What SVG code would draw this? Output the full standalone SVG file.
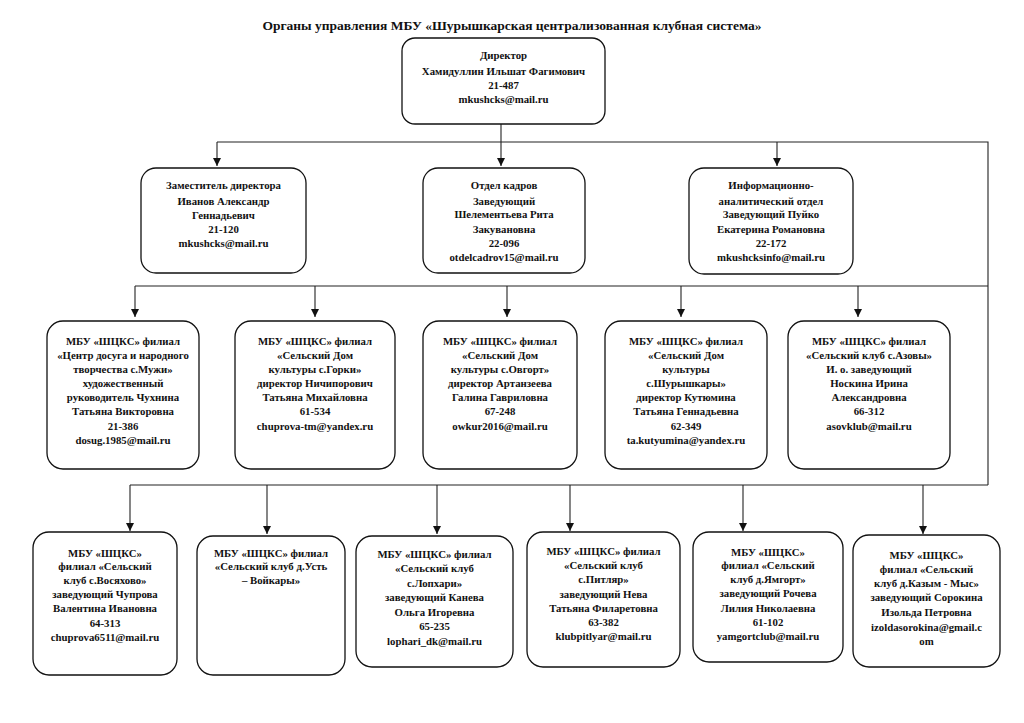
<svg xmlns="http://www.w3.org/2000/svg" width="1024" height="723" viewBox="0 0 1024 723">
<style>
.bg{fill:#fff}
.box{fill:#fff;stroke:#111;stroke-width:1.3}
.t{font-family:"Liberation Serif","Times New Roman",serif;font-weight:bold;font-size:10.8px;fill:#111;text-anchor:middle}
.title{font-family:"Liberation Serif","Times New Roman",serif;font-weight:bold;font-size:13.5px;fill:#111;text-anchor:middle}
.ln{fill:none;stroke:#222;stroke-width:1.1}
.ar{fill:none;stroke:#222;stroke-width:1.1;marker-end:url(#ah)}
</style>
<defs>
<marker id="ah" viewBox="0 0 8 8" refX="8" refY="4" markerWidth="8" markerHeight="8" markerUnits="userSpaceOnUse" orient="auto">
<path d="M0,0 L8,4 L0,8 z" fill="#111"/>
</marker>
</defs>
<rect class="bg" x="0" y="0" width="1024" height="723"/>
<text class="title" x="512" y="30">Органы управления МБУ «Шурышкарская централизованная клубная система»</text>

<g id="connectors">
<line class="ar" x1="501" y1="124" x2="501" y2="166"/>
<polyline class="ln" points="217,142 988,142 988,485"/>
<line class="ar" x1="217" y1="142" x2="217" y2="166"/>
<line class="ar" x1="777" y1="142" x2="777" y2="166"/>
<line class="ln" x1="135" y1="286" x2="988" y2="286"/>
<line class="ar" x1="135" y1="286" x2="135" y2="317"/>
<line class="ar" x1="315" y1="286" x2="315" y2="317"/>
<line class="ar" x1="507" y1="286" x2="507" y2="317"/>
<line class="ar" x1="681" y1="286" x2="681" y2="317"/>
<line class="ar" x1="858" y1="286" x2="858" y2="317"/>
<line class="ln" x1="130" y1="485" x2="988" y2="485"/>
<line class="ar" x1="130" y1="485" x2="130" y2="531"/>
<line class="ar" x1="267" y1="485" x2="267" y2="534"/>
<line class="ar" x1="437" y1="485" x2="437" y2="534"/>
<line class="ar" x1="570" y1="485" x2="570" y2="531"/>
<line class="ar" x1="743" y1="485" x2="743" y2="531"/>
<line class="ar" x1="923" y1="485" x2="923" y2="534"/>
</g>

<g id="director">
<rect class="box" x="402" y="38" width="203" height="86" rx="13"/>
<text class="t" x="503.5" y="59">Директор</text>
<text class="t" x="503.5" y="75">Хамидуллин Ильшат Фагимович</text>
<text class="t" x="503.5" y="89">21-487</text>
<text class="t" x="503.5" y="103">mkushcks@mail.ru</text>
</g>

<g id="deputy">
<rect class="box" x="141" y="168" width="165" height="105" rx="15"/>
<text class="t" x="223.5" y="189">Заместитель директора</text>
<text class="t" x="223.5" y="205">Иванов Александр</text>
<text class="t" x="223.5" y="219">Геннадьевич</text>
<text class="t" x="223.5" y="233">21-120</text>
<text class="t" x="223.5" y="247">mkushcks@mail.ru</text>
</g>

<g id="hr">
<rect class="box" x="423" y="168" width="162" height="105" rx="15"/>
<text class="t" x="504" y="189">Отдел кадров</text>
<text class="t" x="504" y="205">Заведующий</text>
<text class="t" x="504" y="218">Шелементьева Рита</text>
<text class="t" x="504" y="233">Закувановна</text>
<text class="t" x="504" y="247">22-096</text>
<text class="t" x="504" y="261">otdelcadrov15@mail.ru</text>
</g>

<g id="info">
<rect class="box" x="689" y="168" width="164" height="106" rx="15"/>
<text class="t" x="771" y="189">Информационно-</text>
<text class="t" x="771" y="205">аналитический отдел</text>
<text class="t" x="771" y="218">Заведующий Пуйко</text>
<text class="t" x="771" y="233">Екатерина Романовна</text>
<text class="t" x="771" y="247">22-172</text>
<text class="t" x="771" y="261">mkushcksinfo@mail.ru</text>
</g>

<g id="muzhi">
<rect class="box" x="47" y="321" width="152" height="148" rx="16"/>
<text class="t" x="123" y="345">МБУ «ШЦКС» филиал</text>
<text class="t" x="123" y="359">«Центр досуга и народного</text>
<text class="t" x="123" y="373">творчества с.Мужи»</text>
<text class="t" x="123" y="387">художественный</text>
<text class="t" x="123" y="401">руководитель Чухнина</text>
<text class="t" x="123" y="415">Татьяна Викторовна</text>
<text class="t" x="123" y="430">21-386</text>
<text class="t" x="123" y="444">dosug.1985@mail.ru</text>
</g>

<g id="gorki">
<rect class="box" x="235" y="321" width="160" height="148" rx="16"/>
<text class="t" x="315" y="345">МБУ «ШЦКС» филиал</text>
<text class="t" x="315" y="359">«Сельский Дом</text>
<text class="t" x="315" y="373">культуры с.Горки»</text>
<text class="t" x="315" y="387">директор Ничипорович</text>
<text class="t" x="315" y="401">Татьяна Михайловна</text>
<text class="t" x="315" y="415">61-534</text>
<text class="t" x="315" y="430">chuprova-tm@yandex.ru</text>
</g>

<g id="ovgort">
<rect class="box" x="423" y="321" width="154" height="148" rx="16"/>
<text class="t" x="500" y="345">МБУ «ШЦКС» филиал</text>
<text class="t" x="500" y="359">«Сельский Дом</text>
<text class="t" x="500" y="373">культуры с.Овгорт»</text>
<text class="t" x="500" y="387">директор Артанзеева</text>
<text class="t" x="500" y="401">Галина Гавриловна</text>
<text class="t" x="500" y="415">67-248</text>
<text class="t" x="500" y="430">owkur2016@mail.ru</text>
</g>

<g id="shuryshkary">
<rect class="box" x="605" y="321" width="162" height="148" rx="16"/>
<text class="t" x="686" y="345">МБУ «ШЦКС» филиал</text>
<text class="t" x="686" y="359">«Сельский Дом</text>
<text class="t" x="686" y="373">культуры</text>
<text class="t" x="686" y="387">с.Шурышкары»</text>
<text class="t" x="686" y="401">директор Кутюмина</text>
<text class="t" x="686" y="415">Татьяна Геннадьевна</text>
<text class="t" x="686" y="430">62-349</text>
<text class="t" x="686" y="444">ta.kutyumina@yandex.ru</text>
</g>

<g id="azovy">
<rect class="box" x="788" y="321" width="162" height="148" rx="16"/>
<text class="t" x="869" y="345">МБУ «ШЦКС» филиал</text>
<text class="t" x="869" y="359">«Сельский клуб с.Азовы»</text>
<text class="t" x="869" y="373">И. о. заведующий</text>
<text class="t" x="869" y="387">Носкина Ирина</text>
<text class="t" x="869" y="401">Александровна</text>
<text class="t" x="869" y="415">66-312</text>
<text class="t" x="869" y="430">asovklub@mail.ru</text>
</g>

<g id="vosyakhovo">
<rect class="box" x="33" y="532" width="144" height="143" rx="16"/>
<text class="t" x="105" y="557">МБУ «ШЦКС»</text>
<text class="t" x="105" y="570">филиал «Сельский</text>
<text class="t" x="105" y="584">клуб с.Восяхово»</text>
<text class="t" x="105" y="598">заведующий Чупрова</text>
<text class="t" x="105" y="612">Валентина Ивановна</text>
<text class="t" x="105" y="627">64-313</text>
<text class="t" x="105" y="641">chuprova6511@mail.ru</text>
</g>

<g id="ust-voykary">
<rect class="box" x="197" y="536" width="148" height="139" rx="16"/>
<text class="t" x="271" y="557">МБУ «ШЦКС» филиал</text>
<text class="t" x="271" y="570">«Сельский клуб д.Усть</text>
<text class="t" x="271" y="584">– Войкары»</text>
</g>

<g id="lopkhari">
<rect class="box" x="356" y="536" width="157" height="131" rx="16"/>
<text class="t" x="434.5" y="558">МБУ «ШЦКС» филиал</text>
<text class="t" x="434.5" y="572">«Сельский клуб</text>
<text class="t" x="434.5" y="587">с.Лопхари»</text>
<text class="t" x="434.5" y="601">заведующий Канева</text>
<text class="t" x="434.5" y="616">Ольга Игоревна</text>
<text class="t" x="434.5" y="630">65-235</text>
<text class="t" x="434.5" y="645">lophari_dk@mail.ru</text>
</g>

<g id="pitlyar">
<rect class="box" x="527" y="532" width="153" height="135" rx="16"/>
<text class="t" x="603.5" y="555">МБУ «ШЦКС» филиал</text>
<text class="t" x="603.5" y="569">«Сельский клуб</text>
<text class="t" x="603.5" y="583">с.Питляр»</text>
<text class="t" x="603.5" y="598">заведующий Нева</text>
<text class="t" x="603.5" y="612">Татьяна Филаретовна</text>
<text class="t" x="603.5" y="626">63-382</text>
<text class="t" x="603.5" y="640">klubpitlyar@mail.ru</text>
</g>

<g id="yamgort">
<rect class="box" x="693" y="532" width="150" height="130" rx="16"/>
<text class="t" x="768" y="556">МБУ «ШЦКС»</text>
<text class="t" x="768" y="569">филиал «Сельский</text>
<text class="t" x="768" y="583">клуб д.Ямгорт»</text>
<text class="t" x="768" y="597">заведующий Рочева</text>
<text class="t" x="768" y="612">Лилия Николаевна</text>
<text class="t" x="768" y="626">61-102</text>
<text class="t" x="768" y="640">yamgortclub@mail.ru</text>
</g>

<g id="kazym-mys">
<rect class="box" x="853" y="535" width="147" height="132" rx="16"/>
<text class="t" x="926.5" y="559">МБУ «ШЦКС»</text>
<text class="t" x="926.5" y="573">филиал «Сельский</text>
<text class="t" x="926.5" y="587">клуб д.Казым - Мыс»</text>
<text class="t" x="926.5" y="601">заведующий Сорокина</text>
<text class="t" x="926.5" y="616">Изольда Петровна</text>
<text class="t" x="926.5" y="631">izoldasorokina@gmail.c</text>
<text class="t" x="926.5" y="645">om</text>
</g>
</svg>
